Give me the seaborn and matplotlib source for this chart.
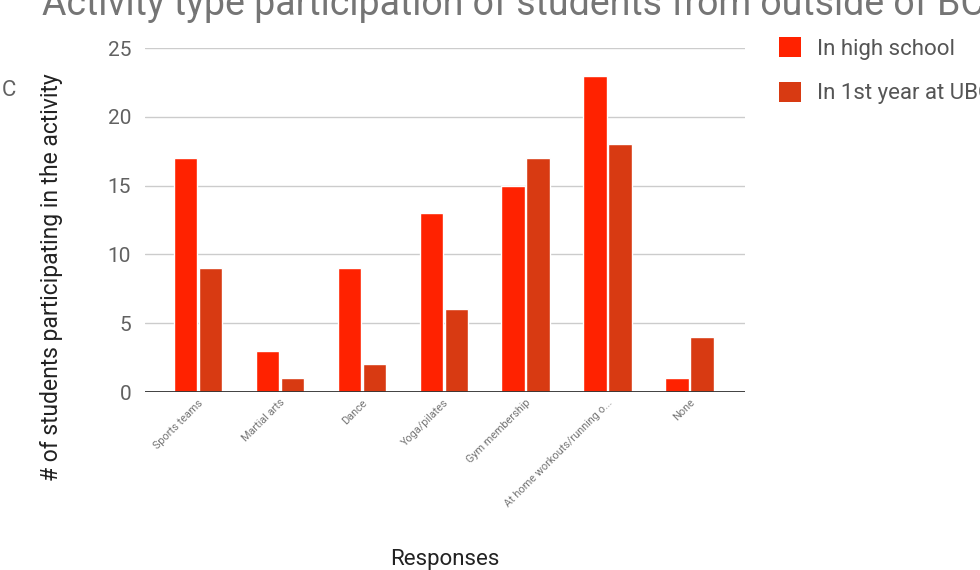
import matplotlib
matplotlib.use("Agg")
import matplotlib.pyplot as plt
from matplotlib.patches import Patch
import pandas as pd
import seaborn as sns

# Survey responses: activity types and participant counts
activities = ["Sports teams", "Martial arts", "Dance", "Yoga/pilates",
              "Gym membership", "At home workouts/running o...", "None"]
high_school = [17, 3, 9, 13, 15, 23, 1]
first_year_ubc = [9, 1, 2, 6, 17, 18, 4]
series_names = ["In high school", "In 1st year at UBC"]
series_colors = ["#FF2200", "#D83A12"]
y_ticks = [0, 5, 10, 15, 20, 25]

df = pd.DataFrame({
    "activity": activities * 2,
    "count": high_school + first_year_ubc,
    "period": [series_names[0]] * len(activities) + [series_names[1]] * len(activities),
})

sns.set_theme(style="white")
plt.rcParams["font.family"] = ["Roboto", "DejaVu Sans"]

fig = plt.figure(figsize=(9.8, 5.7), dpi=100)
ax = fig.add_axes([145 / 980, 1 - 392 / 570, 600 / 980, 344 / 570])

sns.barplot(data=df, x="activity", y="count", hue="period",
            hue_order=series_names, palette=series_colors,
            width=0.61, gap=0.06, saturation=1, legend=False, ax=ax)

ax.set_ylim(0, 25)
ax.set_xlim(-0.65, 6.68)
ax.set_yticks(y_ticks)
ax.set_yticklabels([str(t) for t in y_ticks], fontsize=15, color="#616161")
ax.tick_params(axis="y", length=0, pad=10)
ax.tick_params(axis="x", length=0, pad=4)
for lab in ax.get_xticklabels():
    lab.set_rotation(45)
    lab.set_ha("right")
    lab.set_va("top")
    lab.set_rotation_mode("anchor")
    lab.set_fontsize(7.8)
    lab.set_color("#757575")

ax.yaxis.grid(True, color="#CCCCCC", linewidth=1)
ax.set_axisbelow(True)
ax.axhline(0, color="#333333", linewidth=1.3, zorder=5)
for side in ["top", "right", "left", "bottom"]:
    ax.spines[side].set_visible(False)

ax.set_xlabel("")
ax.set_ylabel("")
fig.text(52 / 980, 1 - 277 / 570, "# of students participating in the activity",
         rotation=90, ha="center", va="center", fontsize=16.5, color="#222222")
fig.text(445 / 980, 1 - 565 / 570, "Responses", ha="center", va="baseline",
         fontsize=16, color="#222222")

fig.text(42 / 980, 1 - 15 / 570,
         "Activity type participation of students from outside of BC",
         ha="left", va="baseline", fontsize=27, color="#757575")
fig.text(2 / 980, 1 - 90 / 570, "C", ha="left", va="center",
         fontsize=16, color="#616161")

handles = [Patch(facecolor=c, edgecolor="none") for c in series_colors]
fig.legend(handles, series_names, loc="upper left",
           bbox_to_anchor=(779 / 980, 1 - 37 / 570), frameon=False,
           fontsize=16, labelcolor="#555555", handlelength=1.0,
           handleheight=1.0, handletextpad=0.7, labelspacing=1.0,
           borderaxespad=0, borderpad=0)

fig.savefig("out.png", dpi=100)
